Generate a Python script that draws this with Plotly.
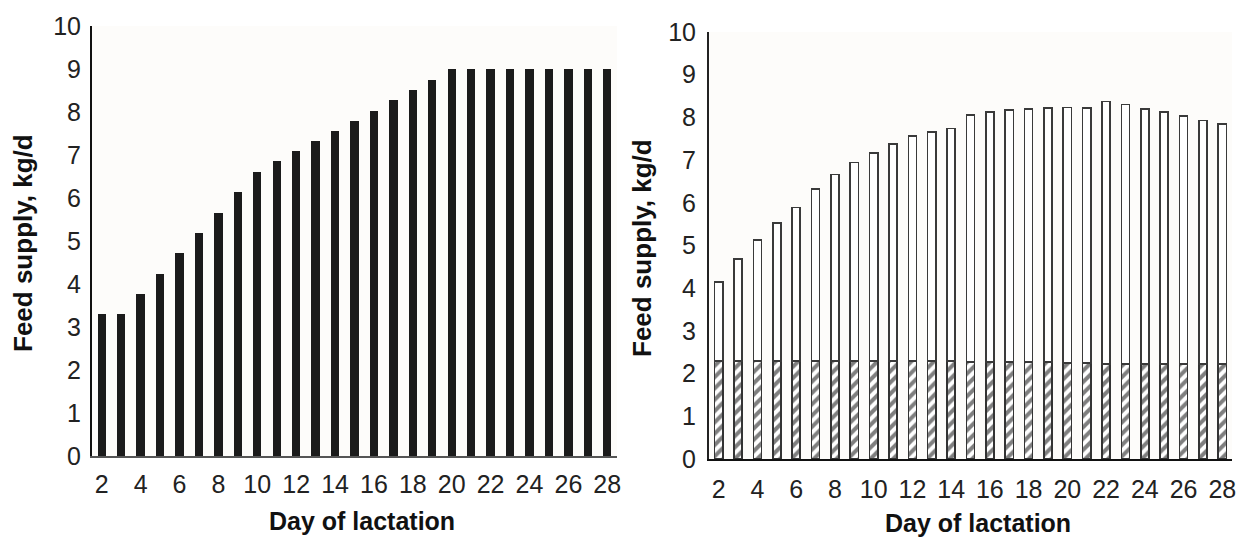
import plotly.graph_objects as go

# Day of lactation (2..28)
days = list(range(2, 29))

# Left panel: feed supply, kg/d
supply_left = [3.30, 3.30, 3.77, 4.24, 4.71, 5.19, 5.66, 6.13, 6.60, 6.85,
               7.09, 7.33, 7.56, 7.79, 8.03, 8.27, 8.52, 8.75, 9.00, 9.00,
               9.00, 9.00, 9.00, 9.00, 9.00, 9.00, 9.00]

# Right panel: total feed supply and the hatched base portion, kg/d
supply_total = [4.14, 4.68, 5.13, 5.53, 5.89, 6.32, 6.66, 6.94, 7.17, 7.38,
                7.56, 7.66, 7.74, 8.06, 8.12, 8.17, 8.20, 8.22, 8.23, 8.22,
                8.37, 8.30, 8.20, 8.12, 8.03, 7.93, 7.84]
supply_base = [2.30, 2.30, 2.30, 2.30, 2.30, 2.30, 2.30, 2.30, 2.30, 2.30,
               2.30, 2.30, 2.30, 2.27, 2.27, 2.27, 2.27, 2.27, 2.25, 2.25,
               2.22, 2.22, 2.22, 2.22, 2.22, 2.22, 2.22]
supply_upper = [t - b for t, b in zip(supply_total, supply_base)]

tick_days = days[::2]

FONT = "Liberation Sans, Arial, sans-serif"
W, H = 1242, 538

fig = go.Figure()

fig.add_trace(go.Bar(
    x=days, y=supply_left, xaxis="x", yaxis="y", width=0.43,
    marker=dict(color="#1b1b1b", line=dict(width=0)), showlegend=False,
))

fig.add_trace(go.Bar(
    x=days, y=supply_base, xaxis="x2", yaxis="y2", width=0.42,
    marker=dict(color="white",
                line=dict(color="#333333", width=1.6),
                pattern=dict(shape="/", fgcolor="#000000", bgcolor="white",
                             size=8, solidity=0.5, fillmode="overlay")),
    showlegend=False,
))
fig.add_trace(go.Bar(
    x=days, y=supply_upper, xaxis="x2", yaxis="y2", width=0.42,
    marker=dict(color="white", line=dict(color="#3a3a3a", width=1.6)),
    showlegend=False,
))

axis_common = dict(showgrid=False, zeroline=False, showline=True, ticks="",
                   automargin=False,
                   tickfont=dict(family=FONT, size=25, color="#222222"))

title_font = dict(family=FONT, size=25, color="#111111")
ytitle_font = dict(family=FONT, size=26, color="#111111")

fig.update_layout(
    template="none",
    width=W, height=H,
    autosize=False,
    margin=dict(l=0, r=0, t=0, b=0, pad=0, autoexpand=False),
    paper_bgcolor="white",
    plot_bgcolor="#fdfcfa",
    barmode="stack",
    xaxis=dict(domain=[92 / W, 617 / W], range=[1.5, 28.5],
               tickmode="array", tickvals=tick_days,
               linecolor="#555555", linewidth=2, ticklabelstandoff=5,
               anchor="y", **axis_common),
    yaxis=dict(domain=[(H - 456) / H, (H - 26) / H], range=[0, 10],
               dtick=1, linecolor="#111111", linewidth=2,
               ticklabelstandoff=4, anchor="x", **axis_common),
    xaxis2=dict(domain=[709 / W, 1232 / W], range=[1.5, 28.5],
                tickmode="array", tickvals=tick_days,
                linecolor="#111111", linewidth=2, ticklabelstandoff=7,
                anchor="y2", **axis_common),
    yaxis2=dict(domain=[(H - 459) / H, (H - 32) / H], range=[0, 10],
                dtick=1, linecolor="#222222", linewidth=2,
                ticklabelstandoff=6, anchor="x2", **axis_common),
    shapes=[
        # faint tinted backdrop behind the right-hand bars
        dict(type="rect", xref="x2", yref="y2", x0=1.55, x1=28.35, y0=0, y1=8.43,
             fillcolor="#fdfcfa", line=dict(width=0), layer="below"),
    ],
    annotations=[
        dict(text="<b>Day of lactation</b>", xref="paper", yref="paper",
             x=362 / W, y=(H - 521) / H, xanchor="center", yanchor="middle",
             showarrow=False, font=title_font),
        dict(text="<b>Day of lactation</b>", xref="paper", yref="paper",
             x=978 / W, y=(H - 523) / H, xanchor="center", yanchor="middle",
             showarrow=False, font=title_font),
        dict(text="<b>Feed supply, kg/d</b>", xref="paper", yref="paper",
             x=23 / W, y=(H - 243) / H, xanchor="center", yanchor="middle",
             showarrow=False, textangle=-90, font=ytitle_font),
        dict(text="<b>Feed supply, kg/d</b>", xref="paper", yref="paper",
             x=642 / W, y=(H - 248) / H, xanchor="center", yanchor="middle",
             showarrow=False, textangle=-90, font=ytitle_font),
    ],
)

fig.write_html("out.html")
